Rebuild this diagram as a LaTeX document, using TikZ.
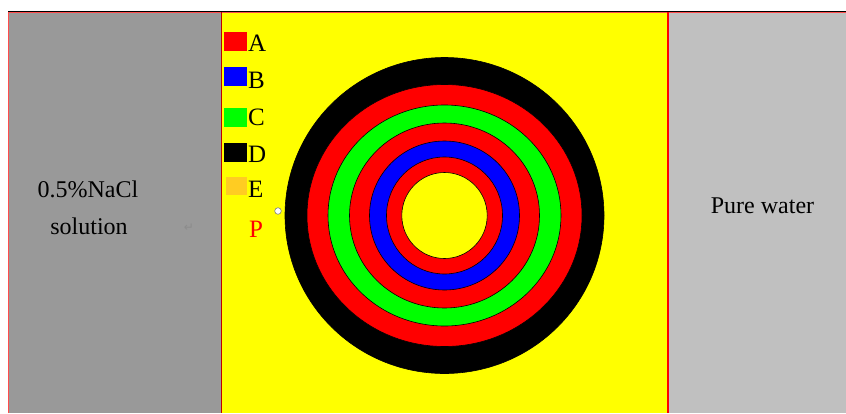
\documentclass[tikz,border=0pt]{standalone}
\usepackage{fontspec}
\setmainfont{Liberation Serif}
\newfontfamily\serifface{Liberation Serif}
\newfontfamily\symfont{DejaVu Sans}
\definecolor{lgray}{HTML}{999999}
\definecolor{rgray}{HTML}{C0C0C0}
\definecolor{ylw}{HTML}{FFFF00}
\definecolor{ered}{HTML}{FF0000}
\definecolor{eblue}{HTML}{0000FF}
\definecolor{egreen}{HTML}{00FF00}
\definecolor{eorange}{HTML}{FFCC22}
\begin{document}
\begin{tikzpicture}[x=1pt,y=-1pt,
  ring/.style={draw=black,line width=0.6pt},
  legsq/.style={minimum width=23pt,minimum height=19pt,inner sep=0pt,anchor=north west},
  legtx/.style={font=\serifface\fontsize{25}{25}\selectfont,inner sep=0pt,anchor=base west},
  lbl/.style={font=\serifface\fontsize{24}{28}\selectfont,inner sep=0pt,anchor=base}]
\useasboundingbox (0,0) rectangle (846,413);
\fill[white] (0,0) rectangle (846,413);
% panels
\fill[lgray] (8,12) rectangle (221.5,413);
\fill[ylw] (221.5,12) rectangle (668,413);
\fill[rgray] (668,12) rectangle (846,413);
\draw[red!70,line width=1pt] (8.5,413) -- (8.5,12.5) -- (846,12.5);
\draw[black,line width=1.2pt] (8,11.3) -- (846,11.3);
\draw[red!75!black,line width=1.3pt] (221.5,12) -- (221.5,413);
\draw[red,line width=1.6pt] (668,12) -- (668,413);
% rings
\coordinate (c) at (444.5,215.5);
\filldraw[ring,fill=black]  (c) ellipse [x radius=159.5,y radius=158];
\filldraw[ring,fill=ered]   (c) ellipse [x radius=137.5,y radius=131];
\filldraw[ring,fill=egreen] (c) ellipse [x radius=116.5,y radius=110.5];
\filldraw[ring,fill=ered]   (c) ellipse [x radius=95,y radius=92.5];
\filldraw[ring,fill=eblue]  (c) ellipse [x radius=75,y radius=74.5];
\filldraw[ring,fill=ered]   (c) ellipse [x radius=58,y radius=58.5];
\filldraw[ring,fill=ylw]    (c) ellipse [x radius=42.7,y radius=43];
% small marker
\filldraw[draw=gray,fill=white,line width=0.6pt] (278,211) circle (3.3);
% legend
\node[legsq,fill=ered]   (sqA) at (224,32) {};
\node[legtx] (tA) at (248,51) {A};
\node[legsq,fill=eblue]  (sqB) at (224,66.5) {};
\node[legtx] (tB) at (248,88) {B};
\node[legsq,fill=egreen] (sqC) at (224,107.5) {};
\node[legtx] (tC) at (248,125) {C};
\node[legsq,fill=black]  (sqD) at (224,143) {};
\node[legtx] (tD) at (248,162) {D};
\node[legsq,fill=eorange,minimum width=21pt,minimum height=18pt] (sqE) at (226,177) {};
\node[legtx] (tE) at (248,197) {E};
\node[legtx,text=red] (tP) at (249,237) {P};
% side labels
\node[lbl] (nacl) at (88,197) {0.5\%NaCl};
\node[lbl] (sol) at (89,234) {solution};
\node[font=\symfont\fontsize{12}{12}\selectfont,text=black!45,inner sep=0pt] (ret) at (189,228) {↵};
\node[lbl] (pw) at (762.5,213) {Pure water};
\end{tikzpicture}
\end{document}
